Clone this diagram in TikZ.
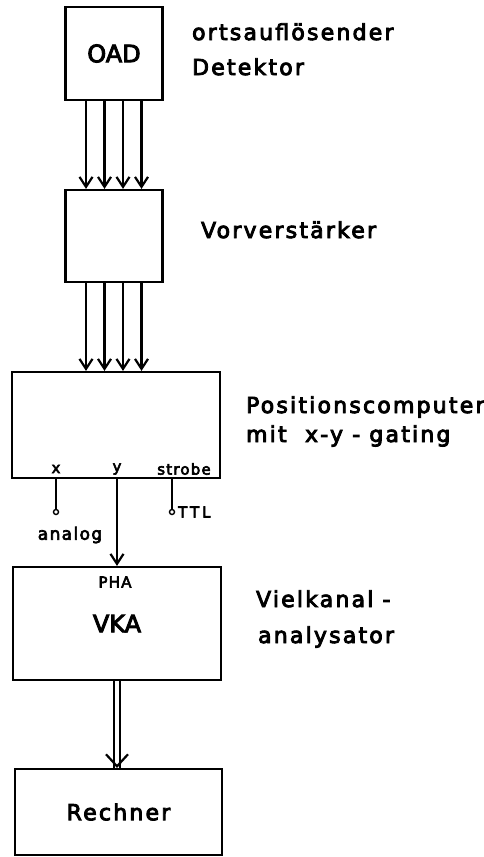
\documentclass[tikz,border=0pt]{standalone}
\usepackage{fontspec}
\setmainfont{DejaVu Sans}[FakeBold=4]
\usetikzlibrary{arrows.meta,positioning}
\begin{document}
\begin{tikzpicture}[x=1pt,y=-1pt,>={Straight Barb[length=10pt,width=13pt]},line width=2.2pt,
  box/.style={draw,inner sep=0pt},
  big/.style={font=\fontsize{24}{28}\selectfont},
  lbl/.style={anchor=base west,inner sep=0pt,font=\fontsize{22}{26}\selectfont\addfontfeature{LetterSpace=10}},
  sm/.style={inner sep=0pt,font=\fontsize{15}{18}\selectfont\addfontfeature{LetterSpace=8}}]
  \useasboundingbox (0,0) rectangle (483,857);
  % blocks
  \node[box,big,minimum width=97pt,minimum height=93pt] (oad) at (114,53.5) {OAD};
  \node[box,minimum width=97pt,minimum height=92pt] (vv) at (114,236) {};
  \node[box,minimum width=208pt,minimum height=106pt] (pc) at (116,425) {};
  \node[box,big,minimum width=208pt,minimum height=113pt] (vka) at (117,623.5) {VKA};
  \node[box,lbl,anchor=center,minimum width=207pt,minimum height=86pt] (rech) at (118.5,812) {Rechner};
  % parallel lines
  \foreach \dx in {-28,-9.5,9,27.5} {
    \draw[->] ([xshift=\dx]oad.south) -- ([xshift=\dx]vv.north);
    \draw[->] ([xshift=\dx]vv.south) -- ([xshift=\dx]vv.south |- pc.north);
  }
  % outputs
  \node[sm] (xl) at (56,469) {x};
  \node[sm] (yl) at (117,469) {y};
  \node[sm] (sl) at (184,469) {strobe};
  \coordinate (xo) at (56,512);
  \coordinate (to) at (172,512);
  \draw (xo |- pc.south) -- ([yshift=2.5pt]xo);
  \draw (to |- pc.south) -- ([yshift=2.5pt]to);
  \draw[line width=1.4pt] (xo) circle (2.5pt);
  \draw[line width=1.4pt] (to) circle (2.5pt);
  \node[sm,font=\fontsize{17}{20}\selectfont\addfontfeature{LetterSpace=8}] (an) at (70,535) {analog};
  \node[sm,anchor=west,font=\fontsize{15}{18}\selectfont\addfontfeature{LetterSpace=20}] (ttl) at (177,512) {TTL};
  \draw[->] (vka.north |- pc.south) -- (vka.north);
  \node[sm] (pha) at (115,582) {PHA};
  % double line
  \draw ([xshift=-3pt]vka.south) -- ([xshift=-3pt]vka.south |- rech.north);
  \draw ([xshift=3pt]vka.south) -- ([xshift=3pt]vka.south |- rech.north);
  \draw[-{Straight Barb[length=12pt,width=22pt]}] ([yshift=0.5pt]vka.south |- rech.north) -- (vka.south |- rech.north);
  % texts
  \node[lbl] (t1) at (191,40) {ortsauflösender};
  \node[lbl] (t2) at (191,75) {Detektor};
  \node[lbl] (t3) at (200,238) {Vorverstärker};
  \node[lbl] (t4) at (245,413) {Positionscomputer};
  \node[lbl] (t5) at (245,442) {mit~ x-y - gating};
  \node[lbl] (t6) at (255,607) {Vielkanal -};
  \node[lbl] (t7) at (257,643) {analysator};
\end{tikzpicture}
\end{document}
